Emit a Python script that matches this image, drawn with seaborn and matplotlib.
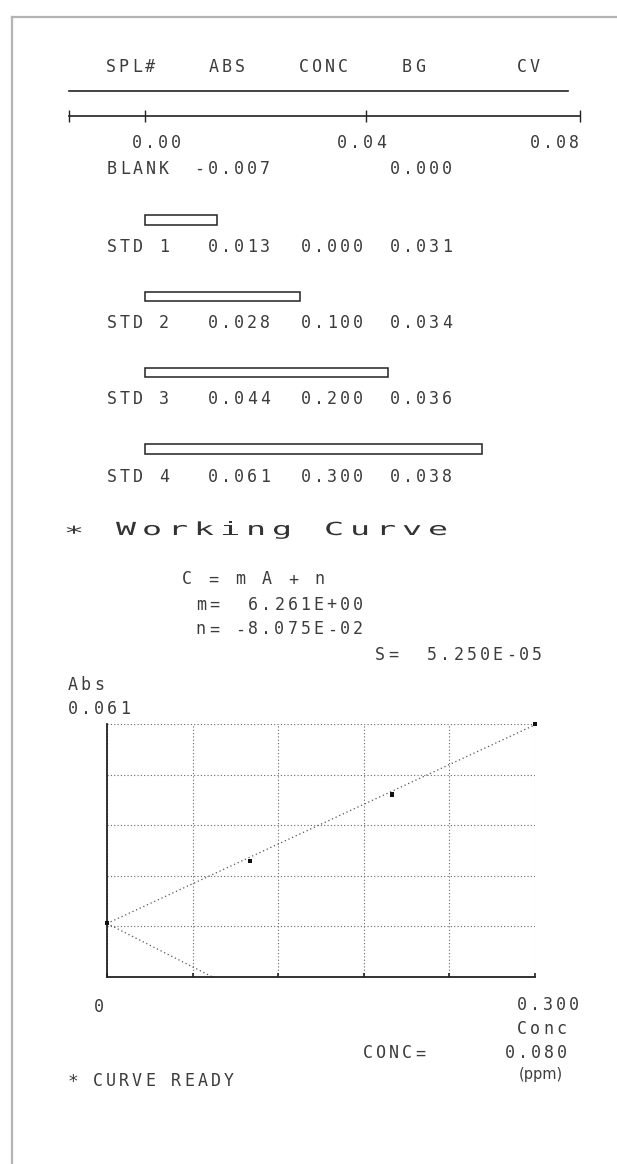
import numpy as np
import matplotlib
matplotlib.use('Agg')
import matplotlib.pyplot as plt
import seaborn as sns
from matplotlib.textpath import TextPath
from matplotlib.patches import PathPatch
from matplotlib.font_manager import FontProperties
from matplotlib.transforms import Affine2D

# --- data ---
header = ['SPL#', 'ABS', 'CONC', 'BG', 'CV']
spl_names = ['BLANK', 'STD 1', 'STD 2', 'STD 3', 'STD 4']
abs_txt = ['-0.007', '0.013', '0.028', '0.044', '0.061']
conc_txt = ['', '0.000', '0.100', '0.200', '0.300']
bg_txt = ['0.000', '0.031', '0.034', '0.036', '0.038']

std_names = ['STD 1', 'STD 2', 'STD 3', 'STD 4']
std_abs = [0.013, 0.028, 0.044, 0.061]
std_conc = [0.0, 0.100, 0.200, 0.300]

# working curve C = m A + n drawn as dotted lines
fit_conc = [0.0, 0.300]
fit_abs = [0.0129, 0.0608]
neg_conc = [0.0, 0.074]
neg_abs = [0.0129, 0.0]

bar_tick_labels = ['0.00', '0.04', '0.08']
eq_lines = ['C = m A + n', 'm=  6.261E+00', 'n= -8.075E-02']
s_line = 'S=  5.250E-05'

INK = '#3c3c3c'
PITCH = 13.1
W, H = 617, 1164

fig = plt.figure(figsize=(W / 100, H / 100), dpi=100)
ax0 = fig.add_axes([0, 0, 1, 1])
ax0.set_xlim(0, W)
ax0.set_ylim(H, 0)
ax0.axis('off')


def px_axes(left, top, right, bottom):
    return fig.add_axes([left / W, 1 - bottom / H, (right - left) / W, (bottom - top) / H])


def mono(x, yc, s, pitch=PITCH, size=12, color=INK):
    # dot matrix printer text, one char per cell; x is left edge of first glyph
    for i, ch in enumerate(s):
        if ch == ' ':
            continue
        ax0.text(x + 4.7 + pitch * i, yc + 6.5, ch, ha='center', va='baseline',
                 fontsize=size, family='DejaVu Sans Mono', color=color)


def wide(x, base, s, pitch=26, size=18, sx=1.85):
    # double width title text
    fp = FontProperties(family='DejaVu Sans Mono')
    for i, ch in enumerate(s):
        if ch == ' ':
            continue
        tp = TextPath((0, 0), ch, size=size, prop=fp)
        yoff = 4 if ch == '*' else 0
        tr = Affine2D().scale(sx, -1).translate(x + i * pitch, base + yoff) + ax0.transData
        ax0.add_patch(PathPatch(tp, transform=tr, fc='#333333', ec='none'))


# page border of the scan
ax0.plot([12, 12], [17, H], color='#b4b4b4', lw=1.6)
ax0.plot([12, W], [17, 17], color='#b4b4b4', lw=1.6)

# table header
for name, x in zip(header, [106, 209, 299, 402, 517]):
    mono(x, 65, name)
ax0.plot([69, 568], [91, 91], color='#222222', lw=1.2)

# bar strip for ABS
axb = px_axes(69, 116, 580, 487)
axb.patch.set_alpha(0)
sns.barplot(x=std_abs, y=std_names, orient='h', color='white', edgecolor='#222222',
            linewidth=1.1, width=0.12, ax=axb)
axb.set_xlim(-0.0138, 0.0787)
axb.set_ylim(3.498, -1.362)
for side in ['left', 'right', 'bottom']:
    axb.spines[side].set_visible(False)
axb.spines['top'].set_linewidth(1.2)
axb.spines['top'].set_color('#222222')
axb.xaxis.tick_top()
axb.set_xticks([-0.0138, 0.0, 0.04, 0.0787])
axb.tick_params(axis='x', direction='inout', length=8, width=1, color='#222222',
                labeltop=False, top=True, bottom=False)
axb.set_yticks([])
axb.set_xlabel('')
axb.set_ylabel('')

for lab, x in zip(bar_tick_labels, [132, 337, 530]):
    mono(x, 142, lab)

# table rows, numbers right aligned in their columns
row_y = [167, 245, 322, 398, 475]
for i, y in enumerate(row_y):
    mono(107, y, spl_names[i])
    a = abs_txt[i]
    mono(208 - PITCH * (len(a) - 5), y, a)
    mono(301, y, conc_txt[i])
    mono(390, y, bg_txt[i])

# working curve block
wide(64, 535, '* Working Curve')
mono(182, 578, eq_lines[0], pitch=13.3)
mono(196, 603, eq_lines[1])
mono(196, 628, eq_lines[2])
mono(375, 653, s_line)
mono(68, 683, 'Abs')
mono(68, 708, '0.061')

axc = px_axes(107, 724, 535, 977)
axc.patch.set_alpha(0)
dot = (0, (1, 2.2))
sns.lineplot(x=fit_conc, y=fit_abs, ax=axc, color='#555555', lw=0.9, linestyle=dot)
sns.lineplot(x=neg_conc, y=neg_abs, ax=axc, color='#555555', lw=0.9, linestyle=dot)
sns.scatterplot(x=std_conc, y=std_abs, ax=axc, marker='s', s=9, color='#111111',
                edgecolor='none', zorder=5, clip_on=False)
axc.set_xlim(0, 0.3)
axc.set_ylim(0, 0.061)
axc.set_xticks(np.linspace(0, 0.3, 6))
axc.set_yticks(np.linspace(0, 0.061, 6))
axc.grid(True, color='#666666', linestyle=(0, (1, 2)), linewidth=0.8)
axc.set_axisbelow(True)
for side in ['top', 'right']:
    axc.spines[side].set_visible(False)
for side in ['left', 'bottom']:
    axc.spines[side].set_linewidth(1.3)
    axc.spines[side].set_color('#222222')
axc.tick_params(axis='x', labelbottom=False, length=3, width=1.2, direction='in', color='#222222')
axc.tick_params(axis='y', labelleft=False, length=0)
axc.set_xlabel('')
axc.set_ylabel('')

mono(94, 1005, '0')
mono(517, 1003, '0.300')
mono(517, 1027, 'Conc')
mono(363, 1052, 'CONC=')
mono(505, 1052, '0.080')
ax0.text(519, 1075, '(ppm)', ha='left', va='center', fontsize=10.5, family='DejaVu Sans', color=INK)
ax0.text(73, 1082, '*', ha='center', va='center', fontsize=13, family='DejaVu Sans Mono', color=INK)
mono(93, 1080, 'CURVE READY')

fig.savefig('out.png', dpi=100)
